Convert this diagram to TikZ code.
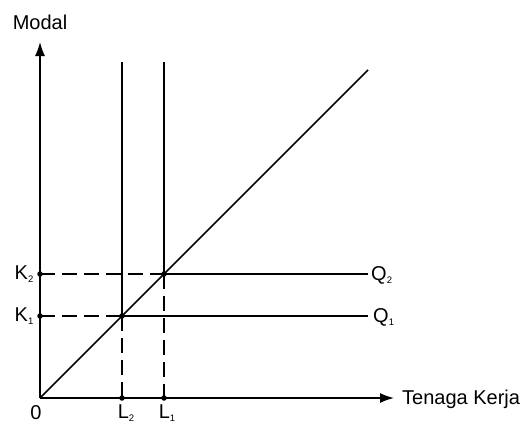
\documentclass[tikz,border=0pt]{standalone}
\usepackage{fontspec}
\setmainfont{Liberation Sans}
\usetikzlibrary{arrows.meta}
\newcommand{\lowidx}[1]{\raisebox{-3pt}{\fontsize{9.5}{9.5}\selectfont #1}}
\tikzset{
  axisline/.style={line width=1.5pt, -{Latex[length=14pt,width=10pt]}},
  solidline/.style={line width=1.5pt},
  dashline/.style={line width=1.5pt, dash pattern=on 15pt off 7pt},
  lbl/.style={inner sep=0pt, font=\fontsize{20}{24}\selectfont},
  dotmark/.style={circle, fill=black, inner sep=0pt, minimum size=5.5pt}
}
\begin{document}
\begin{tikzpicture}[x=1pt,y=-1pt]
\useasboundingbox (0,0) rectangle (520,426);
% key points
\coordinate (O) at (40,398);
\coordinate (ytop) at (40,42);
\coordinate (xend) at (394,398);
\coordinate (L2top) at (122,62);
\coordinate (L1top) at (164,62);
\coordinate (diagend) at (368,70);
\node[dotmark] (K2) at (40,274) {};
\node[dotmark] (K1) at (40,316) {};
\node[dotmark] (L2) at (122,398) {};
\node[dotmark] (L1) at (164,398) {};
\node[dotmark] (A) at (122,316) {};
\node[dotmark] (B) at (164,274) {};
\coordinate (Q2end) at (368,274);
\coordinate (Q1end) at (368,316);
% axes
\draw[axisline] (O) -- (ytop);
\draw[axisline] (O) -- (xend);
% diagonal
\draw[solidline] (O) -- (diagend);
% vertical lines
\draw[solidline] (L2top) -- (A.center);
\draw[solidline] (L1top) -- (B.center);
\draw[dashline] (A.center) -- (L2.center);
\draw[dashline] (B.center) -- (L1.center);
% horizontal lines
\draw[dashline] (K2.center) -- (B.center);
\draw[dashline] (K1.center) -- (A.center);
\draw[solidline] (B.center) -- (Q2end);
\draw[solidline] (A.center) -- (Q1end);
% labels
\node[lbl] (modal) at (40,22) {Modal};
\node[lbl, anchor=west] (tk) at (402,399) {Tenaga Kerja};
\node[lbl] (zero) at (36,413) {0};
\node[lbl] (l2lbl) at (126,413) {L\lowidx{2}};
\node[lbl] (l1lbl) at (167,413) {L\lowidx{1}};
\node[lbl] (k2lbl) at (24,274) {K\lowidx{2}};
\node[lbl] (k1lbl) at (24,316) {K\lowidx{1}};
\node[lbl, anchor=west] (q2lbl) at (371,275) {Q\lowidx{2}};
\node[lbl, anchor=west] (q1lbl) at (373,317) {Q\lowidx{1}};
\end{tikzpicture}
\end{document}
